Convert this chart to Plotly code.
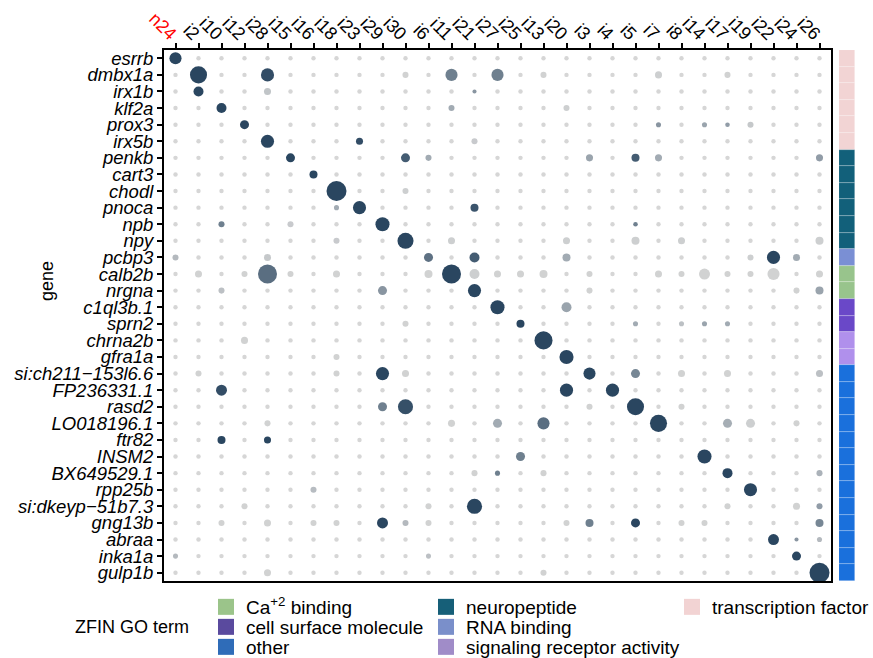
import plotly.graph_objects as go

# ---------------- data ----------------
genes = ["esrrb", "dmbx1a", "irx1b", "klf2a", "prox3", "irx5b", "penkb", "cart3",
         "chodl", "pnoca", "npb", "npy", "pcbp3", "calb2b", "nrgna", "c1ql3b.1",
         "sprn2", "chrna2b", "gfra1a", "si:ch211\u2212153l6.6", "FP236331.1", "rasd2",
         "LO018196.1", "ftr82", "INSM2", "BX649529.1", "rpp25b", "si:dkeyp\u221251b7.3",
         "gng13b", "abraa", "inka1a", "gulp1b"]

clusters = ["n24", "i2", "i10", "i12", "i28", "i15", "i16", "i18", "i23", "i29", "i30",
            "i6", "i11", "i21", "i27", "i25", "i13", "i20", "i3", "i4", "i5", "i7", "i8",
            "i14", "i17", "i19", "i22", "i24", "i26"]

go_terms = ["transcription factor"] * 6 + ["neuropeptide"] * 6 + ["RNA binding"] + \
           ["Ca+2 binding"] * 2 + ["cell surface molecule"] * 2 + \
           ["signaling receptor activity"] * 2 + ["other"] * 13

# background (most cells): percent expressed and scaled average expression
background_pct = 5
background_expr = 0.0

# (gene, cluster, percent expressed, scaled avg expression 0..1)
dots = [
    ("esrrb", "n24", 52, 1.0),
    ("dmbx1a", "i2", 82, 1.0), ("dmbx1a", "i28", 58, 0.95), ("dmbx1a", "i11", 52, 0.6),
    ("dmbx1a", "i27", 52, 0.6), ("dmbx1a", "i30", 15, 0.03), ("dmbx1a", "i7", 21, 0.05),
    ("dmbx1a", "i13", 15, 0.03), ("dmbx1a", "i17", 15, 0.03),
    ("irx1b", "i2", 39, 1.0), ("irx1b", "i28", 21, 0.12), ("irx1b", "i21", 3, 0.45),
    ("klf2a", "i10", 39, 1.0), ("klf2a", "i11", 15, 0.3), ("klf2a", "i20", 15, 0.05),
    ("prox3", "i12", 33, 1.0), ("prox3", "i7", 9, 0.45), ("prox3", "i14", 9, 0.35),
    ("prox3", "i17", 6, 0.4), ("prox3", "i19", 15, 0.1),
    ("irx5b", "i28", 58, 1.0), ("irx5b", "i23", 21, 0.95), ("irx5b", "i21", 15, 0.08),
    ("penkb", "i15", 33, 1.0), ("penkb", "i30", 33, 0.85), ("penkb", "i6", 15, 0.3),
    ("penkb", "i3", 21, 0.35), ("penkb", "i5", 27, 0.85), ("penkb", "i7", 21, 0.3),
    ("penkb", "i26", 21, 0.4),
    ("cart3", "i16", 27, 1.0),
    ("chodl", "i18", 100, 1.0), ("chodl", "i30", 15, 0.05),
    ("pnoca", "i18", 9, 0.3), ("pnoca", "i23", 58, 1.0), ("pnoca", "i21", 27, 0.9),
    ("npb", "i10", 15, 0.6), ("npb", "i15", 15, 0.08), ("npb", "i29", 64, 1.0),
    ("npb", "i5", 6, 0.6),
    ("npy", "i18", 15, 0.08), ("npy", "i30", 76, 1.0), ("npy", "i11", 21, 0.05),
    ("npy", "i20", 21, 0.05), ("npy", "i5", 27, 0.05), ("npy", "i8", 21, 0.05),
    ("npy", "i26", 27, 0.05),
    ("pcbp3", "n24", 15, 0.2), ("pcbp3", "i28", 21, 0.1), ("pcbp3", "i6", 33, 0.7),
    ("pcbp3", "i21", 39, 0.85), ("pcbp3", "i20", 27, 0.3), ("pcbp3", "i19", 15, 0.05),
    ("pcbp3", "i22", 58, 1.0), ("pcbp3", "i24", 21, 0.3),
    ("calb2b", "i2", 21, 0.03), ("calb2b", "i12", 15, 0.03), ("calb2b", "i28", 94, 0.72),
    ("calb2b", "i15", 15, 0.03), ("calb2b", "i18", 21, 0.03), ("calb2b", "i6", 27, 0.03),
    ("calb2b", "i11", 94, 1.0), ("calb2b", "i21", 39, 0.05), ("calb2b", "i27", 21, 0.03),
    ("calb2b", "i25", 21, 0.03), ("calb2b", "i13", 27, 0.03), ("calb2b", "i3", 15, 0.03),
    ("calb2b", "i7", 21, 0.03), ("calb2b", "i8", 15, 0.03), ("calb2b", "i14", 45, 0.03),
    ("calb2b", "i17", 15, 0.03), ("calb2b", "i19", 15, 0.03), ("calb2b", "i22", 52, 0.03),
    ("calb2b", "i26", 21, 0.03),
    ("nrgna", "i10", 15, 0.15), ("nrgna", "i29", 33, 0.45), ("nrgna", "i21", 58, 1.0),
    ("nrgna", "i3", 15, 0.03), ("nrgna", "i24", 15, 0.03), ("nrgna", "i26", 27, 0.35),
    ("c1ql3b.1", "i27", 64, 1.0), ("c1ql3b.1", "i20", 39, 0.35),
    ("sprn2", "i30", 15, 0.03), ("sprn2", "i25", 27, 1.0), ("sprn2", "i5", 9, 0.3),
    ("sprn2", "i8", 9, 0.15), ("sprn2", "i14", 9, 0.35), ("sprn2", "i17", 9, 0.3),
    ("chrna2b", "i12", 21, 0.03), ("chrna2b", "i13", 88, 1.0),
    ("gfra1a", "i18", 15, 0.03), ("gfra1a", "i20", 64, 1.0),
    ("si:ch211\u2212153l6.6", "i2", 15, 0.03), ("si:ch211\u2212153l6.6", "i18", 15, 0.03),
    ("si:ch211\u2212153l6.6", "i29", 58, 1.0), ("si:ch211\u2212153l6.6", "i30", 21, 0.03),
    ("si:ch211\u2212153l6.6", "i3", 52, 1.0), ("si:ch211\u2212153l6.6", "i5", 33, 0.55),
    ("si:ch211\u2212153l6.6", "i8", 21, 0.03), ("si:ch211\u2212153l6.6", "i17", 21, 0.03),
    ("si:ch211\u2212153l6.6", "i26", 21, 0.15),
    ("FP236331.1", "i10", 45, 0.95), ("FP236331.1", "i20", 58, 1.0), ("FP236331.1", "i4", 58, 1.0),
    ("rasd2", "i29", 33, 0.6), ("rasd2", "i30", 70, 0.93), ("rasd2", "i3", 15, 0.03),
    ("rasd2", "i5", 82, 1.0), ("rasd2", "i8", 15, 0.03),
    ("LO018196.1", "i28", 15, 0.03), ("LO018196.1", "i11", 21, 0.03), ("LO018196.1", "i27", 33, 0.3),
    ("LO018196.1", "i13", 52, 0.72), ("LO018196.1", "i7", 82, 1.0), ("LO018196.1", "i17", 33, 0.28),
    ("LO018196.1", "i19", 33, 0.05), ("LO018196.1", "i24", 15, 0.03),
    ("ftr82", "i10", 27, 1.0), ("ftr82", "i28", 21, 1.0),
    ("INSM2", "i25", 33, 0.6), ("INSM2", "i14", 64, 1.0),
    ("BX649529.1", "i21", 15, 0.03), ("BX649529.1", "i27", 9, 0.6), ("BX649529.1", "i13", 15, 0.03),
    ("BX649529.1", "i17", 39, 1.0), ("BX649529.1", "i26", 15, 0.25),
    ("rpp25b", "i16", 15, 0.18), ("rpp25b", "i19", 58, 1.0),
    ("si:dkeyp\u221251b7.3", "i12", 15, 0.03), ("si:dkeyp\u221251b7.3", "i6", 15, 0.03),
    ("si:dkeyp\u221251b7.3", "i21", 70, 1.0), ("si:dkeyp\u221251b7.3", "i24", 21, 0.03),
    ("si:dkeyp\u221251b7.3", "i26", 15, 0.4), ("si:dkeyp\u221251b7.3", "i17", 15, 0.03),
    ("gng13b", "i10", 15, 0.03), ("gng13b", "i28", 21, 0.03), ("gng13b", "i16", 15, 0.03),
    ("gng13b", "i18", 15, 0.03), ("gng13b", "i29", 45, 1.0), ("gng13b", "i30", 15, 0.2),
    ("gng13b", "i6", 15, 0.03), ("gng13b", "i20", 15, 0.03), ("gng13b", "i3", 27, 0.6),
    ("gng13b", "i5", 33, 1.0), ("gng13b", "i8", 15, 0.03), ("gng13b", "i14", 15, 0.03),
    ("gng13b", "i26", 27, 0.55),
    ("abraa", "i22", 45, 1.0), ("abraa", "i24", 3, 0.45), ("abraa", "i26", 9, 0.2),
    ("inka1a", "n24", 9, 0.2), ("inka1a", "i6", 9, 0.15), ("inka1a", "i24", 33, 1.0),
    ("gulp1b", "i28", 21, 0.03), ("gulp1b", "i13", 15, 0.03), ("gulp1b", "i26", 100, 1.0),
]

# GO term colours (side bar and legend keys)
bar_colors = {
    "transcription factor": "#f2d4d4", "neuropeptide": "#12607a", "RNA binding": "#7a8fd4",
    "Ca+2 binding": "#98c48c", "cell surface molecule": "#6a48c8",
    "signaling receptor activity": "#b090ec", "other": "#1a70dc",
}
legend_colors = {
    "transcription factor": "#f2d3d3", "neuropeptide": "#165f78", "RNA binding": "#7a8fca",
    "Ca+2 binding": "#9bc48a", "cell surface molecule": "#5a4a9e",
    "signaling receptor activity": "#a08cc8", "other": "#2f6cb8",
}
# legend layout: columns of GO terms
legend_columns = [
    ["Ca+2 binding", "cell surface molecule", "other"],
    ["neuropeptide", "RNA binding", "signaling receptor activity"],
    ["transcription factor"],
]

# ---------------- build grid ----------------
lookup = {(g, c): (p, e) for g, c, p, e in dots}
xs, ys, pcts, exprs = [], [], [], []
for g in genes:
    for c in clusters:
        p, e = lookup.get((g, c), (background_pct, background_expr))
        xs.append(c); ys.append(g); pcts.append(p); exprs.append(e)

sizes = [3.6 + 0.164 * p for p in pcts]  # radius-type size scale (px diameter)

FONT = "Liberation Sans, Arial, Helvetica, sans-serif"
fig = go.Figure()

fig.add_trace(go.Scatter(
    x=xs, y=ys, mode="markers", showlegend=False,
    marker=dict(size=sizes, sizemode="diameter", color=exprs, cmin=0, cmax=1, opacity=1,
                colorscale=[[0, "#d6d6d6"], [1, "#2a4660"]], line=dict(width=0)),
    xaxis="x", yaxis="y",
))

# side bar with GO terms
for term in bar_colors:
    gs = [g for g, t in zip(genes, go_terms) if t == term]
    fig.add_trace(go.Bar(
        x=[1] * len(gs), y=gs, orientation="h", width=1, base=0,
        marker=dict(color=bar_colors[term], line=dict(color="rgba(255,255,255,0.35)", width=0.6)),
        showlegend=False, xaxis="x2", yaxis="y",
    ))

W, H = 873, 658
L, R, T, B = 164, 18, 50, 77
pw, ph = W - L - R, H - T - B
def px_x(p):
    return (p - L) / pw
def px_y(p):
    return (H - B - p) / ph

col_left = [206, 426, 672]
row_center = [607, 627, 647]

legend_layout = {}
k = 0
for ci, column in enumerate(legend_columns):
    for ri, term in enumerate(column):
        k += 1
        lname = "legend" if k == 1 else "legend%d" % k
        label = "Ca<sup>+2</sup> binding" if term == "Ca+2 binding" else term
        fig.add_trace(go.Scatter(
            x=[None], y=[None], mode="markers", name=label, legend=lname,
            marker=dict(symbol="square", size=16, color=legend_colors[term]),
        ))
        legend_layout[lname] = dict(
            x=px_x(col_left[ci]), y=px_y(row_center[ri]), xanchor="left", yanchor="middle",
            orientation="v", bgcolor="rgba(0,0,0,0)", itemwidth=30,
            font=dict(family=FONT, size=19, color="black"))

ticktext_x = ["<span style='color:#ff0000'>n24</span>"] + clusters[1:]
ticktext_y = ["<i>%s</i>" % g for g in genes]

main_right = px_x(831)

fig.update_layout(
    width=W, height=H, margin=dict(l=L, r=R, t=T, b=B, autoexpand=False),
    paper_bgcolor="white", plot_bgcolor="white",
    font=dict(family=FONT, color="black"),
    bargap=0,
    xaxis=dict(domain=[0, main_right], type="category", categoryorder="array",
               categoryarray=clusters, range=[-0.5, len(clusters) - 0.5], side="top",
               tickvals=clusters, ticktext=ticktext_x, tickangle=45, automargin=False,
               tickfont=dict(family=FONT, size=18, color="black"),
               ticklabelstandoff=-8,
               ticks="outside", ticklen=5, tickwidth=1.5, tickcolor="black",
               showline=True, linecolor="black", linewidth=2, mirror=True,
               showgrid=False, zeroline=False, anchor="y"),
    xaxis2=dict(domain=[px_x(839), 1.0], range=[0, 1], visible=False, anchor="y"),
    yaxis=dict(type="category", categoryorder="array", categoryarray=genes,
               range=[len(genes) - 0.5, -0.5], automargin=False,
               tickvals=genes, ticktext=ticktext_y,
               tickfont=dict(family=FONT, size=18.5, color="black"),
               ticks="outside", ticklen=5, tickwidth=1.5, tickcolor="black",
               showline=True, linecolor="black", linewidth=2, mirror=True,
               showgrid=False, zeroline=False, anchor="x"),
    annotations=[
        dict(text="gene", x=px_x(35), y=px_y(281), xref="paper", yref="paper",
             textangle=-90, showarrow=False, font=dict(family=FONT, size=18)),
        dict(text="ZFIN GO term", x=px_x(191), y=px_y(627), xref="paper", yref="paper",
             xanchor="right", yanchor="middle", showarrow=False,
             font=dict(family=FONT, size=18)),
    ],
    **legend_layout,
)

fig.write_html("out.html")
